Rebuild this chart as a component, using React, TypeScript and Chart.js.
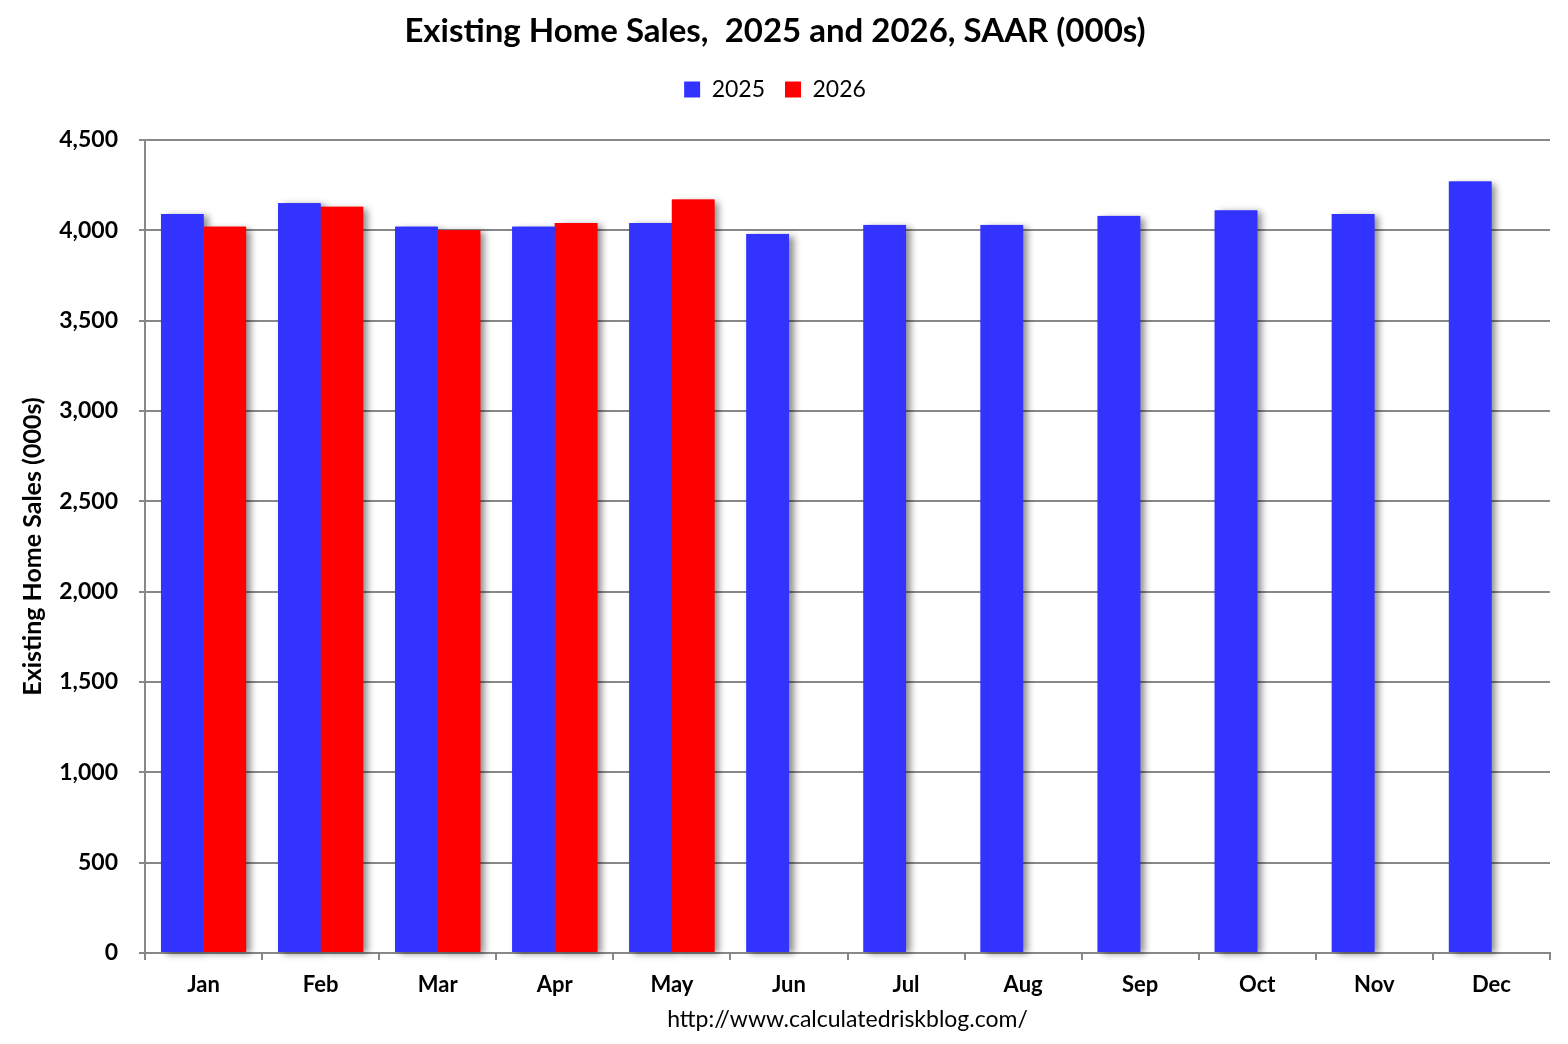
import React, { useEffect, useRef } from "react";
import { Chart, registerables } from "chart.js";

Chart.register(...registerables);

const months = ["Jan", "Feb", "Mar", "Apr", "May", "Jun", "Jul", "Aug", "Sep", "Oct", "Nov", "Dec"];
const sales2025 = [4090, 4150, 4020, 4020, 4040, 3980, 4030, 4030, 4080, 4110, 4090, 4270];
const sales2026: (number | null)[] = [4020, 4130, 4000, 4040, 4170, null, null, null, null, null, null, null];
const seriesLabels = ["2025", "2026"];
const titleText = "Existing Home Sales,  2025 and 2026, SAAR (000s)";
const yTitle = "Existing Home Sales (000s)";
const xTitle = "http://www.calculatedriskblog.com/";

const FONT = "Lato, 'Open Sans', sans-serif";

const shadowPlugin = {
  id: "barShadow",
  beforeDatasetsDraw(chart: any) {
    const ctx = chart.ctx;
    ctx.save();
    ctx.shadowColor = "rgba(0,0,0,0.45)";
    ctx.shadowBlur = 7;
    ctx.shadowOffsetX = 5;
    ctx.shadowOffsetY = 2;
    chart.data.datasets.forEach((ds: any, i: number) => {
      const meta = chart.getDatasetMeta(i);
      if (meta.hidden) return;
      meta.data.forEach((el: any, j: number) => {
        const v = ds.data[j];
        if (v === null || v === undefined) return;
        const left = el.x - el.width / 2;
        ctx.fillStyle = ds.backgroundColor;
        ctx.fillRect(left, el.y, el.width, el.base - el.y);
      });
    });
    ctx.restore();
  },
};

export default function App() {
  const ref = useRef<HTMLCanvasElement | null>(null);

  useEffect(() => {
    if (!ref.current) return;
    const chart = new Chart(ref.current, {
      type: "bar",
      data: {
        labels: months,
        datasets: [
          { label: seriesLabels[0], data: sales2025, backgroundColor: "#3333FF", borderWidth: 0 },
          { label: seriesLabels[1], data: sales2026 as any, backgroundColor: "#FF0000", borderWidth: 0 },
        ],
      },
      plugins: [shadowPlugin],
      options: {
        animation: false,
        responsive: true,
        maintainAspectRatio: false,
        layout: { padding: { top: 0, left: 0, right: 18, bottom: 0 } },
        datasets: {
          bar: { categoryPercentage: 0.727, barPercentage: 1.0 },
        } as any,
        plugins: {
          tooltip: { enabled: false },
          title: {
            display: true,
            text: titleText,
            color: "#000",
            font: { family: FONT, size: 33, weight: "bold" },
            padding: { top: 11, bottom: 7 },
          },
          legend: {
            display: true,
            position: "top",
            weight: 1800,
            labels: {
              color: "#000",
              boxWidth: 16,
              boxHeight: 16,
              padding: 20,
              font: { family: FONT, size: 23 },
            },
          } as any,
          subtitle: {
            display: true,
            text: "",
            weight: 500,
            font: { family: FONT, size: 10 },
            padding: { top: 17, bottom: 0 },
          } as any,
        },
        scales: {
          x: {
            offset: true,
            grid: {
              display: true,
              offset: true,
              drawOnChartArea: false,
              drawTicks: true,
              tickLength: 7,
              color: "#888",
              lineWidth: 2,
            },
            border: { display: true, color: "#888", width: 2 },
            ticks: {
              color: "#000",
              padding: 12,
              font: { family: FONT, size: 22, weight: "bold" },
              maxRotation: 0,
            },
            title: {
              display: true,
              text: xTitle,
              color: "#000",
              font: { family: FONT, size: 23 },
              padding: { top: 0, bottom: 11 },
            },
            afterFit(scale: any) {
              scale.height = 91;
            },
          },
          y: {
            min: 0,
            max: 4500,
            ticks: {
              stepSize: 500,
              color: "#000",
              padding: 21,
              font: { family: FONT, size: 23, weight: "bold" },
              callback: (v: any) => Number(v).toLocaleString("en-US"),
            },
            grid: {
              color: "#888",
              lineWidth: 2,
              drawTicks: true,
              tickLength: 6,
            },
            border: { display: true, color: "#888", width: 2 },
            title: {
              display: true,
              text: yTitle,
              color: "#000",
              font: { family: FONT, size: 25, weight: "bold" },
              padding: { top: 18, bottom: 0 },
            },
            afterFit(scale: any) {
              scale.width = 145;
              scale.paddingTop = 140;
            },
          },
        },
      },
    });
    return () => chart.destroy();
  }, []);

  return (
    <div style={{ position: "absolute", left: 0, top: 0, width: 1568, height: 1044, background: "#fff" }}>
      <canvas ref={ref} />
    </div>
  );
}
